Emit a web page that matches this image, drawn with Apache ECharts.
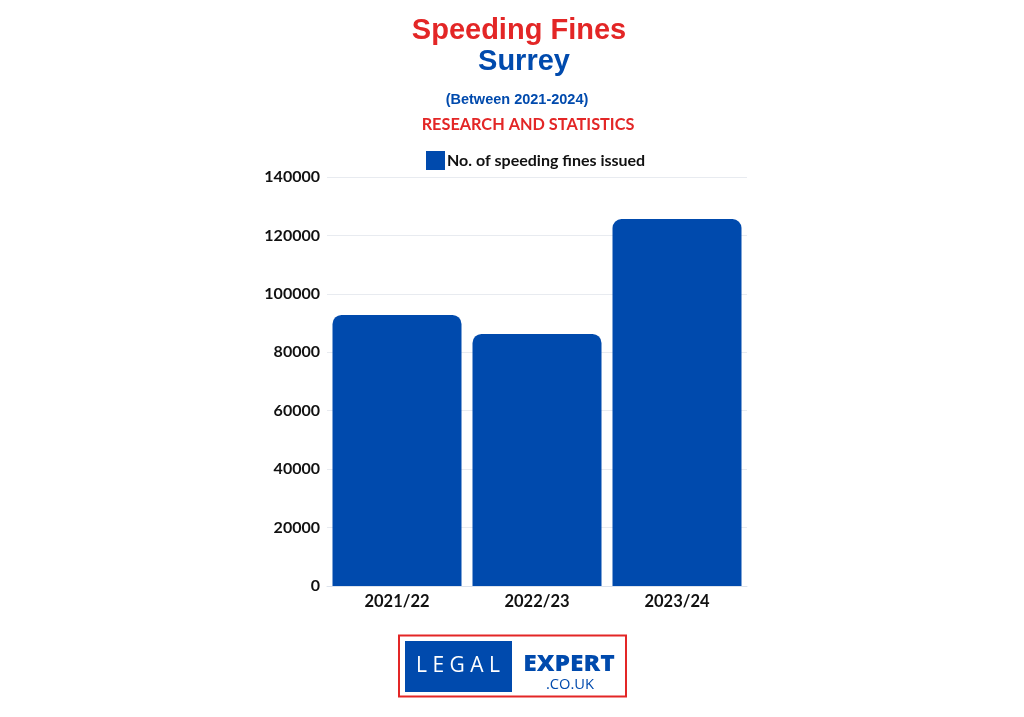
<!DOCTYPE html>
<html>
<head>
<meta charset="utf-8">
<script src="https://cdn.jsdelivr.net/npm/echarts@6/dist/echarts.min.js"></script>
<style>html,body{margin:0;padding:0;background:#fff;}#c{width:1024px;height:717px;}</style>
</head>
<body>
<div id="c"></div>
<script>
const categories = ['2021/22', '2022/23', '2023/24'];
const fines = [92800, 86300, 125600];
const seriesName = 'No. of speeding fines issued';
const yTicks = [0, 20000, 40000, 60000, 80000, 100000, 120000, 140000];

const blue = '#004AAD';
const red = '#E32626';
const chart = echarts.init(document.getElementById('c'));
chart.setOption({
  backgroundColor: '#fff',
  animation: false,
  title: [
    { text: 'Speeding Fines', left: 514, top: 11, textAlign: 'center',
      textStyle: { color: red, fontFamily: 'Liberation Sans', fontWeight: 'bold', fontSize: 29 } },
    { text: 'Surrey', left: 519, top: 42, textAlign: 'center',
      textStyle: { color: blue, fontFamily: 'Liberation Sans', fontWeight: 'bold', fontSize: 29 } },
    { text: '(Between 2021-2024)', left: 512, top: 87, textAlign: 'center',
      textStyle: { color: blue, fontFamily: 'Liberation Sans', fontWeight: 'bold', fontSize: 14.5 } },
    { text: 'RESEARCH AND STATISTICS', left: 523, top: 112, textAlign: 'center',
      textStyle: { color: red, fontFamily: 'Lato', fontWeight: 'bold', fontSize: 16.3 } }
  ],
  legend: {
    data: [seriesName], top: 146, left: 421, itemWidth: 19, itemHeight: 19, itemGap: 4,
    icon: 'rect',
    textStyle: { color: '#111', fontFamily: 'Lato', fontWeight: 'bold', fontSize: 16, padding: [0, 0, 0, -3] }
  },
  grid: { left: 327, right: 277, top: 177, bottom: 131, containLabel: false },
  xAxis: {
    type: 'category', data: categories,
    axisLine: { show: true, lineStyle: { color: '#dde3ec' } },
    axisTick: { show: false },
    axisLabel: { color: '#111', fontFamily: 'Lato', fontWeight: 'bold', fontSize: 16.5, margin: 7 }
  },
  yAxis: {
    type: 'value', min: 0, max: 140000, interval: 20000,
    axisLine: { show: false }, axisTick: { show: false },
    splitLine: { lineStyle: { color: '#e8ebf0', width: 1 } },
    axisLabel: { color: '#111', fontFamily: 'Lato', fontWeight: 'bold', fontSize: 16, margin: 7,
      formatter: v => yTicks.includes(v) ? String(v) : '' }
  },
  series: [{
    name: seriesName, type: 'bar', data: fines, barWidth: 129,
    itemStyle: { color: blue, borderRadius: [9, 9, 0, 0] }
  }],
  graphic: [
    { type: 'rect', shape: { x: 399, y: 635.5, width: 227, height: 61 },
      style: { fill: '#fff', stroke: red, lineWidth: 2 } },
    { type: 'rect', shape: { x: 405, y: 641, width: 107, height: 51 }, style: { fill: blue } },
    { type: 'text', x: 458, y: 666, style: { text: 'L E G A L', fill: '#fff', font: '21px "Open Sans"',
      textAlign: 'center', textVerticalAlign: 'middle' } },
    { type: 'text', x: 569, y: 665, scaleX: 1.12, style: { text: 'EXPERT', fill: blue, font: '800 22px "Open Sans"',
      textAlign: 'center', textVerticalAlign: 'middle' } },
    { type: 'text', x: 570, y: 685, scaleX: 1.05, style: { text: '.CO.UK', fill: blue, font: '14px "Open Sans"',
      textAlign: 'center', textVerticalAlign: 'middle' } }
  ]
});
</script>
</body>
</html>
